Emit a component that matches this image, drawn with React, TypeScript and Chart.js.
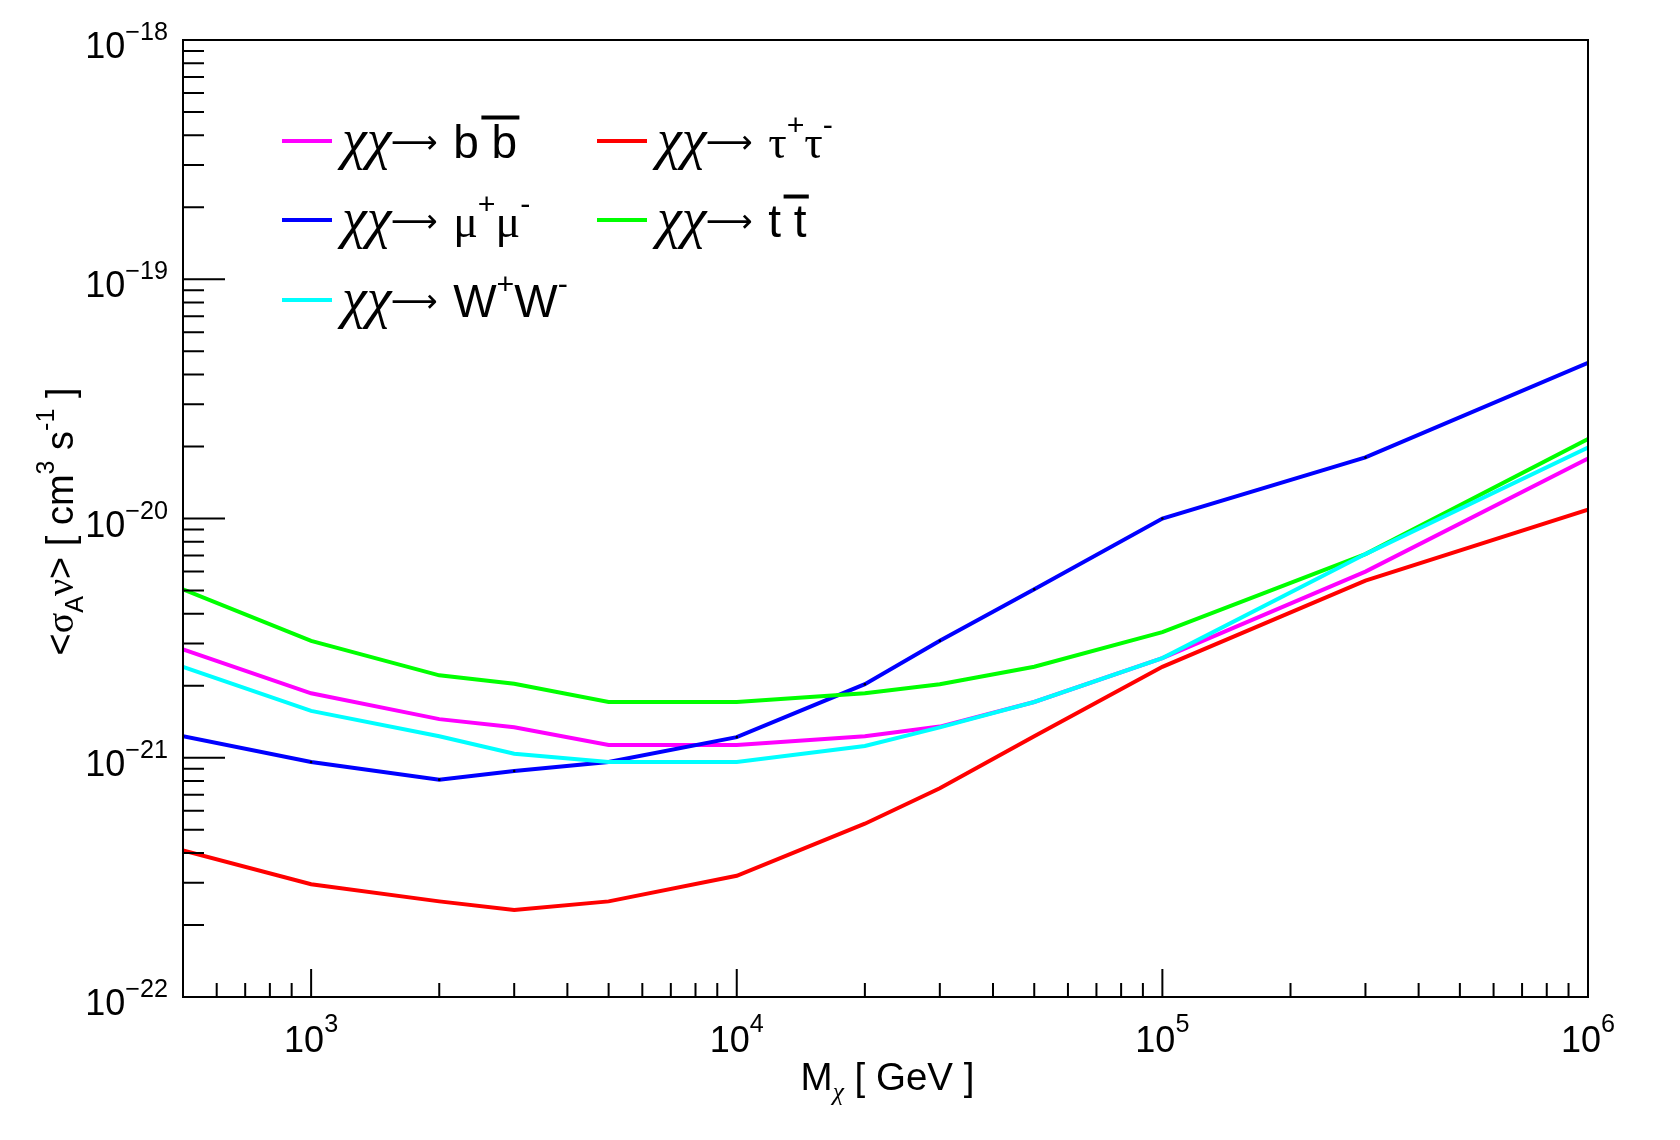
import { useEffect, useRef } from "react";
import Chart from "chart.js/auto";

// dark matter mass [GeV]
const masses = [500, 1000, 2000, 3000, 5000, 10000, 20000, 30000, 50000, 100000, 300000, 1000000];

// <sigma_A v> limits [cm^3 s^-1] per channel
const bbbar = [2.84e-21, 1.86e-21, 1.45e-21, 1.34e-21, 1.13e-21, 1.13e-21, 1.23e-21, 1.35e-21, 1.71e-21, 2.61e-21, 6.0e-21, 1.78e-20];
const tautau = [4.1e-22, 2.96e-22, 2.51e-22, 2.31e-22, 2.51e-22, 3.21e-22, 5.3e-22, 7.45e-22, 1.23e-21, 2.4e-21, 5.5e-21, 1.09e-20];
const mumu = [1.23e-21, 9.6e-22, 8.1e-22, 8.8e-22, 9.6e-22, 1.22e-21, 2.03e-21, 3.08e-21, 5.06e-21, 1.0e-20, 1.8e-20, 4.47e-20];
const ttbar = [5.06e-21, 3.08e-21, 2.21e-21, 2.04e-21, 1.71e-21, 1.71e-21, 1.86e-21, 2.03e-21, 2.4e-21, 3.35e-21, 7.1e-21, 2.15e-20];
const wwbar = [2.4e-21, 1.57e-21, 1.23e-21, 1.04e-21, 9.6e-22, 9.6e-22, 1.12e-21, 1.34e-21, 1.71e-21, 2.61e-21, 7.1e-21, 1.98e-20];

const xTickExponents = [3, 4, 5, 6];
const yTickExponents = [-22, -21, -20, -19, -18];

type Seg = {
    t: string; greek?: boolean; italic?: boolean; sup?: boolean; sub?: boolean;
    bar?: boolean; arrow?: boolean; grow?: number; pad?: number;
};

// legend order as in the ROOT legend (two columns, row-wise)
const chichi: Seg[] = [{ t: "χχ", greek: true, italic: true, grow: 1.22 }, { t: "⟶", arrow: true }];
const legendLabels: Seg[][] = [
    [...chichi, { t: " b", pad: 3 }, { t: " " }, { t: "b", bar: true }],
    [...chichi, { t: " ", pad: 3 }, { t: "τ", greek: true }, { t: "+", sup: true }, { t: "τ", greek: true }, { t: "-", sup: true }],
    [...chichi, { t: " ", pad: 3 }, { t: "μ", greek: true }, { t: "+", sup: true }, { t: "μ", greek: true }, { t: "-", sup: true }],
    [...chichi, { t: " t", pad: 3 }, { t: " " }, { t: "t", bar: true }],
    [...chichi, { t: " W", pad: 3 }, { t: "+", sup: true }, { t: "W" }, { t: "-", sup: true }],
];

const xTitle: Seg[] = [{ t: "M" }, { t: "χ", greek: true, italic: true, sub: true }, { t: " [ GeV ]" }];
const yTitle: Seg[] = [
    { t: "<" }, { t: "σ", greek: true }, { t: "A", sub: true }, { t: "ν", greek: true }, { t: ">" },
    { t: " [ cm" }, { t: "3", sup: true }, { t: " s" }, { t: "-1", sup: true }, { t: " ]" },
];

const SANS = '"Liberation Sans", Arial, Helvetica, sans-serif';
const SERIF = '"Liberation Serif", "Times New Roman", serif';
const ARROW = '"DejaVu Sans", sans-serif';

function segFont(s: Seg, size: number, small: number) {
    let sz = s.sup || s.sub ? size * small : size;
    sz *= s.grow ?? 1;
    if (s.arrow) return `${sz}px ${ARROW}`;
    return `${s.italic ? "italic " : ""}${sz}px ${s.greek ? SERIF : SANS}`;
}

function segWidth(ctx: CanvasRenderingContext2D, s: Seg, size: number, small: number) {
    if (s.arrow) return size * 1.0;
    ctx.font = segFont(s, size, small);
    return ctx.measureText(s.t).width + (s.pad ?? 0);
}

function richWidth(ctx: CanvasRenderingContext2D, segs: Seg[], size: number, small = 0.66) {
    let w = 0;
    for (const s of segs) w += segWidth(ctx, s, size, small);
    return w;
}

function drawRich(ctx: CanvasRenderingContext2D, x: number, y: number, segs: Seg[], size: number, small = 0.66, raise = 0.5, drop = 0.25) {
    let cx = x;
    for (const s of segs) {
        const w = segWidth(ctx, s, size, small);
        const dy = s.sup ? -size * raise : s.sub ? size * drop : 0;
        if (s.arrow) {
            // long right arrow, its ink fitted to the box and centred at the math axis
            ctx.font = `${size}px ${ARROW}`;
            const m = ctx.measureText(s.t);
            const inkL = -m.actualBoundingBoxLeft;
            const inkW = m.actualBoundingBoxRight + m.actualBoundingBoxLeft || m.width;
            const fs = size * (w * 0.96) / inkW;
            ctx.font = `${fs}px ${ARROW}`;
            const m2 = ctx.measureText(s.t);
            const mid = (m2.actualBoundingBoxAscent - m2.actualBoundingBoxDescent) / 2;
            ctx.fillText(s.t, cx + w * 0.02 - inkL * fs / size, y - size * 0.33 + mid);
        } else {
            ctx.font = segFont(s, size, small);
            ctx.fillText(s.t, cx + (s.pad ?? 0), y + dy);
        }
        if (s.bar) {
            ctx.save();
            ctx.lineWidth = 4;
            ctx.beginPath();
            ctx.moveTo(cx - size * 0.22, y - size * 0.88);
            ctx.lineTo(cx + w + size * 0.05, y - size * 0.88);
            ctx.stroke();
            ctx.restore();
        }
        cx += w;
    }
}

const rootPlugin = {
    id: "rootFrame",
    afterDraw(chart: Chart) {
        const ctx = chart.ctx;
        const { left, right, top, bottom } = chart.chartArea;
        const xs = chart.scales.x;
        const ys = chart.scales.y;
        ctx.save();
        ctx.strokeStyle = "#000";
        ctx.fillStyle = "#000";
        ctx.lineWidth = 2;
        ctx.strokeRect(left, top, right - left, bottom - top);

        // inward ticks
        const logTicks = (min: number, max: number) => {
            const out: { v: number; major: boolean }[] = [];
            for (let e = Math.floor(Math.log10(min)); e <= Math.ceil(Math.log10(max)); e++) {
                for (let m = 1; m <= 9; m++) {
                    const v = m * Math.pow(10, e);
                    if (v < min * 0.999 || v > max * 1.001) continue;
                    out.push({ v, major: m === 1 });
                }
            }
            return out;
        };
        ctx.beginPath();
        for (const t of logTicks(xs.min, xs.max)) {
            const px = xs.getPixelForValue(t.v);
            ctx.moveTo(px, bottom);
            ctx.lineTo(px, bottom - (t.major ? 28 : 14));
        }
        for (const t of logTicks(ys.min, ys.max)) {
            const py = ys.getPixelForValue(t.v);
            ctx.moveTo(left, py);
            ctx.lineTo(left + (t.major ? 42 : 21), py);
        }
        ctx.stroke();

        // tick labels 10^n
        ctx.textBaseline = "alphabetic";
        ctx.textAlign = "left";
        for (const e of xTickExponents) {
            const segs: Seg[] = [{ t: "10" }, { t: String(e), sup: true }];
            const w = richWidth(ctx, segs, 36, 0.7);
            const px = xs.getPixelForValue(Math.pow(10, e));
            drawRich(ctx, px - w / 2, bottom + 55, segs, 36, 0.7, 0.56);
        }
        for (const e of yTickExponents) {
            const segs: Seg[] = [{ t: "10" }, { t: "−" + String(-e), sup: true }];
            const w = richWidth(ctx, segs, 36, 0.7);
            const py = ys.getPixelForValue(Math.pow(10, e));
            drawRich(ctx, left - 15 - w, py + 18, segs, 36, 0.7, 0.5);
        }

        // axis titles
        const xw = richWidth(ctx, xTitle, 38.5);
        drawRich(ctx, (left + right) / 2 - xw / 2 + 2, bottom + 93, xTitle, 38.5, 0.66, 0.5, 0.26);
        const yw = richWidth(ctx, yTitle, 38);
        ctx.save();
        ctx.translate(73, (top + bottom) / 2 + 3);
        ctx.rotate(-Math.PI / 2);
        drawRich(ctx, -yw / 2, 0, yTitle, 38, 0.66, 0.5, 0.26);
        ctx.restore();

        // legend
        const cols = [282, 597];
        const rows = [141, 220, 300];
        legendLabels.forEach((segs, i) => {
            const ds = chart.data.datasets[i];
            const lx = cols[i % 2];
            const ly = rows[Math.floor(i / 2)];
            ctx.save();
            ctx.strokeStyle = ds.borderColor as string;
            ctx.lineWidth = 4;
            ctx.beginPath();
            ctx.moveTo(lx, ly);
            ctx.lineTo(lx + 50, ly);
            ctx.stroke();
            ctx.restore();
            drawRich(ctx, lx + 60, ly + 17, segs, 46, 0.66, 0.5);
        });
        ctx.restore();
    },
};

function series(values: number[]) {
    return masses.map((m, i) => ({ x: m, y: values[i] }));
}

export default function App() {
    const canvasRef = useRef<HTMLCanvasElement | null>(null);
    const chartRef = useRef<Chart | null>(null);

    useEffect(() => {
        document.body.style.margin = "0";
        if (!canvasRef.current) return;
        if (chartRef.current) { chartRef.current.destroy(); }

        const common = { borderWidth: 4, pointRadius: 0, tension: 0, fill: false };
        chartRef.current = new Chart(canvasRef.current, {
            type: "line",
            data: {
                datasets: [
                    { ...common, label: "bb", data: series(bbbar), borderColor: "#ff00ff", order: 5 },
                    { ...common, label: "tautau", data: series(tautau), borderColor: "#ff0000", order: 4 },
                    {
                        ...common, label: "mumu", data: series(mumu), borderColor: "#0000ff", order: 3,
                        pointRadius: 1.3, pointBackgroundColor: "#000", pointBorderWidth: 0,
                    },
                    { ...common, label: "tt", data: series(ttbar), borderColor: "#00ff00", order: 2 },
                    { ...common, label: "WW", data: series(wwbar), borderColor: "#00ffff", order: 1 },
                ],
            },
            options: {
                animation: false,
                responsive: true,
                maintainAspectRatio: false,
                layout: { padding: { left: 183, top: 40, right: 92, bottom: 143 } },
                plugins: {
                    legend: { display: false },
                    tooltip: { enabled: false },
                },
                scales: {
                    x: { type: "logarithmic", min: 500, max: 1000000, display: false },
                    y: { type: "logarithmic", min: 1e-22, max: 1e-18, display: false },
                },
            },
            plugins: [rootPlugin],
        });

        return () => {
            if (chartRef.current) {
                chartRef.current.destroy();
                chartRef.current = null;
            }
        };
    }, []);

    return (
        <div style={{ width: 1680, height: 1140, position: "relative", background: "#fff" }}>
            <canvas ref={canvasRef} />
        </div>
    );
}
